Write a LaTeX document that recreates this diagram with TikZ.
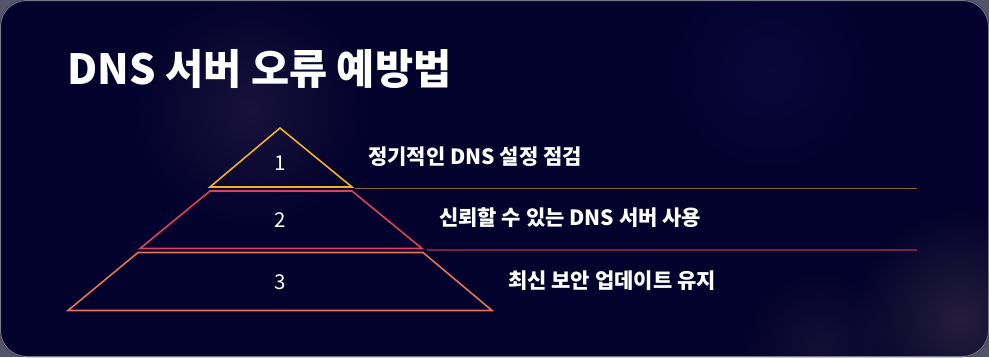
\documentclass[tikz,border=0pt]{standalone}
\usepackage{fontspec}
\setmainfont{Noto Sans CJK KR}
\usetikzlibrary{fadings}
\tikzfading[name=softglow, inner color=transparent!0, outer color=transparent!100]
\definecolor{bg}{HTML}{02022C}
\definecolor{edge}{HTML}{55536A}
\definecolor{tyel}{HTML}{EFB224}
\definecolor{tred}{HTML}{E0405C}
\definecolor{torg}{HTML}{E5735A}
\definecolor{lyel}{HTML}{8A6230}
\definecolor{lred}{HTML}{7A2246}
\definecolor{gA}{RGB}{40,28,70}
\definecolor{gB}{RGB}{12,14,70}
\definecolor{gC}{RGB}{60,48,70}
\definecolor{gD}{RGB}{40,28,60}
\tikzset{
  num/.style={text=white,font=\fontsize{20.5}{24}\selectfont,inner sep=0pt},
  lbl/.style={text=white,font=\bfseries\fontsize{21}{24}\selectfont,inner sep=0pt,anchor=west},
  tier/.style={line width=1.6pt,line join=miter},
  sep/.style={line width=1.6pt},
  glow/.style={path fading=softglow}
}
\begin{document}
\begin{tikzpicture}[x=1pt,y=-1pt]
\useasboundingbox (0,0) rectangle (989,357);
\fill[edge] (0,0) rectangle (989,357);
\fill[bg,rounded corners=26pt] (0,0) rectangle (989,357);
\begin{scope}
\clip[rounded corners=26pt] (0,0) rectangle (989,357);
\fill[glow,gA,opacity=0.6] (250,110) circle (120);
\fill[glow,gB,opacity=0.6] (770,70) circle (110);
\fill[glow,gC,opacity=0.6] (960,320) circle (110);
\fill[glow,gD,opacity=0.5] (820,350) circle (80);
\end{scope}
\draw[edge!80!white,line width=1pt,rounded corners=26pt] (0.5,0.5) rectangle (988.5,356.5);
% title
\node[anchor=base west,inner sep=0pt,text=white,font=\bfseries\fontsize{41.5}{46}\selectfont] (title) at (67,84) {DNS 서버 오류 예방법};
% pyramid
\coordinate (a1) at (280,128);
\coordinate (b1l) at (210,187);
\coordinate (b1r) at (352,187);
\coordinate (t2l) at (210,191);
\coordinate (t2r) at (352,191);
\coordinate (b2l) at (140,248.5);
\coordinate (b2r) at (422,248.5);
\coordinate (t3l) at (138,252.5);
\coordinate (t3r) at (423,252.5);
\coordinate (b3l) at (68,310.5);
\coordinate (b3r) at (492,310.5);
\draw[tier,tyel] (a1) -- (b1r) -- (b1l) -- cycle;
\draw[tier,tred] (t2l) -- (t2r) -- (b2r) -- (b2l) -- cycle;
\draw[tier,torg] (t3l) -- (t3r) -- (b3r) -- (b3l) -- cycle;
\node[num] (n1) at (280,163) {1};
\node[num] (n2) at (280,220) {2};
\node[num] (n3) at (280,282) {3};
% separators
\coordinate (s1e) at (917,188.5);
\coordinate (s2e) at (917,250);
\coordinate (s1s) at (355,188.5);
\coordinate (s2s) at (427,250);
\draw[sep,lyel] (s1s) -- (s1e);
\draw[sep,lred] (s2s) -- (s2e);
% labels
\node[lbl] (l1) at (368,157) {정기적인 DNS 설정 점검};
\node[lbl] (l2) at (439,218) {신뢰할 수 있는 DNS 서버 사용};
\node[lbl] (l3) at (508,281) {최신 보안 업데이트 유지};
\end{tikzpicture}
\end{document}
